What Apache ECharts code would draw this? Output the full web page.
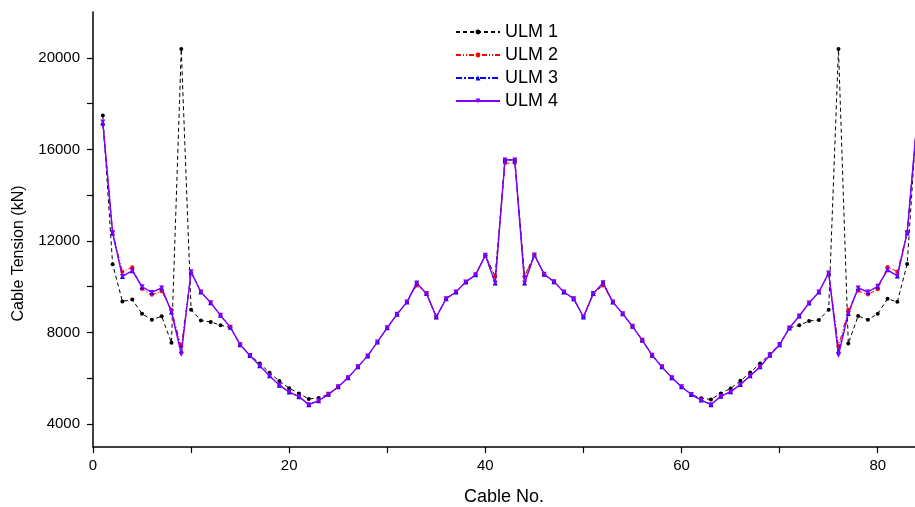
<!DOCTYPE html>
<html>
<head>
<meta charset="utf-8">
<script src="https://cdn.jsdelivr.net/npm/echarts@6/dist/echarts.min.js"></script>
<style>
html,body{margin:0;padding:0;background:#fff;}
#chart{width:915px;height:507px;}
</style>
</head>
<body>
<div id="chart"></div>
<script>
var cableNo = [1,2,3,4,5,6,7,8,9,10,11,12,13,14,15,16,17,18,19,20,21,22,23,24,25,26,27,28,29,30,31,32,33,34,35,36,37,38,39,40,41,42,43,44,45,46,47,48,49,50,51,52,53,54,55,56,57,58,59,60,61,62,63,64,65,66,67,68,69,70,71,72,73,74,75,76,77,78,79,80,81,82,83,84];

var ulm1 = [17480,10980,9360,9440,8820,8560,8710,7550,20380,9000,8530,8460,8320,8220,7480,7010,6650,6240,5880,5570,5340,5100,5140,5300,5630,6030,6500,6980,7590,8210,8800,9330,10160,9700,8680,9480,9770,10210,10520,11370,10450,15540,15540,10450,11390,10540,10220,9770,9480,8680,9700,10170,9330,8820,8270,7660,7010,6500,6030,5630,5290,5130,5080,5340,5560,5890,6250,6650,7060,7500,8200,8320,8500,8550,9000,20380,7520,8720,8560,8820,9470,9340,10990,17480];

var ulm2 = [17100,12400,10650,10850,9900,9650,9800,9000,7400,10600,9770,9300,8750,8230,7470,7000,6550,6110,5700,5400,5200,4850,5020,5300,5630,6030,6500,6980,7590,8210,8800,9330,10050,9700,8680,9480,9770,10210,10520,11370,10450,15400,15400,10450,11390,10540,10220,9770,9480,8680,9700,10050,9330,8820,8270,7660,7010,6500,6030,5630,5290,5050,4850,5220,5410,5730,6110,6500,7010,7470,8200,8720,9290,9770,10600,7400,9000,9820,9660,9890,10860,10660,12400,17100];

var ulm3 = [17150,12350,10450,10700,10000,9750,9950,8900,7200,10650,9770,9300,8750,8230,7470,7000,6550,6110,5700,5400,5200,4850,5020,5300,5630,6030,6500,6980,7590,8210,8800,9330,10160,9700,8680,9480,9770,10210,10520,11370,10160,15540,15540,10160,11390,10540,10220,9770,9480,8680,9700,10170,9330,8820,8270,7660,7010,6500,6030,5630,5290,5050,4850,5220,5410,5730,6110,6500,7010,7470,8200,8720,9290,9770,10600,7200,8830,9950,9770,10020,10740,10470,12350,17200];

var ulm4 = [17200,12350,10450,10700,10000,9750,9950,8900,7050,10650,9770,9300,8750,8230,7470,7000,6550,6110,5700,5400,5200,4850,5020,5300,5630,6030,6500,6980,7590,8210,8800,9330,10160,9700,8680,9480,9770,10210,10520,11370,10160,15540,15540,10160,11390,10540,10220,9770,9480,8680,9700,10170,9330,8820,8270,7660,7010,6500,6030,5630,5290,5050,4850,5220,5410,5730,6110,6500,7010,7470,8200,8720,9290,9770,10600,7010,8830,9950,9770,10020,10740,10470,12350,17250];

var seriesNames = ['ULM 1','ULM 2','ULM 3','ULM 4'];
var xLabelValues = [0,20,40,60,80];
var xTickValues = [0,10,20,30,40,50,60,70,80];
var yLabelValues = [4000,8000,12000,16000,20000];
var yTickValues = [4000,6000,8000,10000,12000,14000,16000,18000,20000];

function pairs(ys){ return cableNo.map(function(x,i){ return [x, ys[i]]; }); }

var FONT = '"Liberation Sans", Arial, sans-serif';
var chart = echarts.init(document.getElementById('chart'), null, {renderer:'canvas'});

chart.setOption({
  animation: false,
  backgroundColor: '#ffffff',
  grid: {left: 93, top: 12, width: 822, bottom: 60, containLabel: false, outerBoundsMode: 'none'},
  legend: {
    orient: 'vertical',
    left: 450,
    top: 18,
    itemWidth: 44,
    itemHeight: 6,
    itemGap: 5,
    textStyle: {fontFamily: FONT, fontSize: 18, color: '#000'},
    data: seriesNames
  },
  xAxis: {
    type: 'value',
    min: 0,
    max: 83.8,
    name: 'Cable No.',
    nameLocation: 'middle',
    nameGap: 41,
    nameTextStyle: {fontFamily: FONT, fontSize: 18, color: '#000'},
    axisLine: {show: true, onZero: false, lineStyle: {color: '#000', width: 1.5}},
    axisTick: {show: true, inside: false, length: 6, customValues: xTickValues, lineStyle: {color: '#000', width: 1.2}},
    axisLabel: {customValues: xLabelValues, fontFamily: FONT, fontSize: 15, color: '#000', margin: 11,
      formatter: function(v){ return String(v); }},
    splitLine: {show: false}
  },
  yAxis: {
    type: 'value',
    min: 3000,
    max: 22000,
    name: 'Cable Tension (kN)',
    nameLocation: 'middle',
    nameGap: 66,
    nameTextStyle: {fontFamily: FONT, fontSize: 16, color: '#000', padding: [0, 48, 0, 0]},
    axisLine: {show: true, onZero: false, lineStyle: {color: '#000', width: 1.5}},
    axisTick: {show: true, inside: false, length: 6, customValues: yTickValues, lineStyle: {color: '#000', width: 1.2}},
    axisLabel: {customValues: yLabelValues, fontFamily: FONT, fontSize: 15, color: '#000', margin: 13,
      formatter: function(v){ return String(v); }},
    splitLine: {show: false}
  },
  series: [
    {
      name: seriesNames[0], type: 'line', data: pairs(ulm1), clip: true, z: 2,
      symbol: 'circle', symbolSize: 4,
      itemStyle: {color: '#000000'},
      lineStyle: {color: '#000000', width: 1, type: [4, 3]}
    },
    {
      name: seriesNames[1], type: 'line', data: pairs(ulm2), clip: true, z: 3,
      symbol: 'circle', symbolSize: 4,
      itemStyle: {color: '#ff0000'},
      lineStyle: {color: '#ff0000', width: 1, type: [5, 2, 1, 2, 1, 2]}
    },
    {
      name: seriesNames[2], type: 'line', data: pairs(ulm3), clip: true, z: 4,
      symbol: 'triangle', symbolSize: 5,
      itemStyle: {color: '#0000ff'},
      lineStyle: {color: '#0000ff', width: 1, type: [6, 2, 2, 2]}
    },
    {
      name: seriesNames[3], type: 'line', data: pairs(ulm4), clip: true, z: 5,
      symbol: 'triangle', symbolRotate: 180, symbolSize: 5,
      itemStyle: {color: '#8000ff'},
      lineStyle: {color: '#8000ff', width: 1.4, type: 'solid'}
    }
  ]
});
</script>
</body>
</html>
